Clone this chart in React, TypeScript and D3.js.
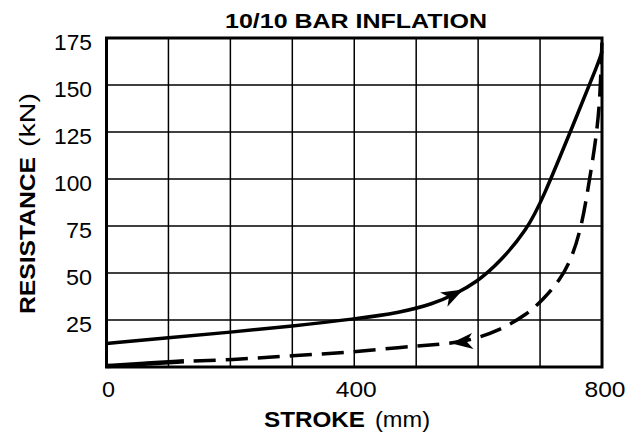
import * as d3 from "d3";

// loading curve (solid)
const strokeUp = [0, 100, 200, 300, 400, 475, 527, 563, 598, 635, 679, 705, 750, 797, 800];
const resistUp = [12.5, 15.5, 18.5, 21.8, 25.5, 29, 33.5, 38.8, 45.2, 55.8, 73, 90, 126, 164, 168];

// unloading curve (dashed)
const strokeDown = [0, 60, 125, 200, 300, 400, 474, 527, 582, 635, 679, 705, 732, 753, 768, 777, 785, 792, 797, 800];
const resistDown = [0.5, 1.8, 3, 3.8, 6, 8, 10.5, 11.7, 13.5, 19.5, 28, 36, 46, 59, 76.6, 94, 110, 126, 144, 174];

const xTicks = [0, 400, 800];
const xGrid = [0, 100, 200, 300, 400, 500, 600, 700, 800];
const yTicks = [25, 50, 75, 100, 125, 150, 175];
const arrowUpAt = 576;
const arrowDownAt = 556;

const FONT = "'Liberation Sans', Arial, Helvetica, sans-serif";

export default function App() {
  const width = 639,
    height = 436;
  const left = 106.5,
    right = 602,
    top = 38,
    bottom = 367;

  const x = d3.scaleLinear().domain([0, 800]).range([left, right]);
  const y = d3.scaleLinear().domain([0, 175]).range([bottom, top]);

  const line = d3
    .line<[number, number]>()
    .x((d) => x(d[0]))
    .y((d) => y(d[1]))
    .curve(d3.curveBasis);

  const up: [number, number][] = strokeUp.map((s, i) => [s, resistUp[i]]);
  const down: [number, number][] = strokeDown.map((s, i) => [s, resistDown[i]]);
  const downStart = down.filter((d) => d[0] <= 125);
  const downRest = down.filter((d) => d[0] >= 125);

  // piecewise lookup for arrow placement
  const upAt = d3.scaleLinear().domain(strokeUp).range(resistUp);
  const downAt = d3.scaleLinear().domain(strokeDown).range(resistDown);

  function arrow(tipMm: number, f: (v: number) => number, dir: number) {
    const tx = x(tipMm),
      ty = y(f(tipMm));
    const bx = x(tipMm - dir * 20),
      by = y(f(tipMm - dir * 20));
    const ang = (Math.atan2(ty - by, tx - bx) * 180) / Math.PI;
    return (
      <g transform={`translate(${tx},${ty}) rotate(${ang})`}>
        <path d="M0,0 L-22,-8 L-16,0 L-22,8 Z" fill="black" />
      </g>
    );
  }

  const dash = "0,10," + d3.range(40).map(() => "22,10").join(",");

  return (
    <svg
      width={width}
      height={height}
      style={{ position: "absolute", left: 0, top: 0, background: "white" }}
      fontFamily={FONT}
    >
      <rect x={0} y={0} width={width} height={height} fill="white" />
      {/* grid */}
      {xGrid.map((v) => (
        <line key={"gx" + v} x1={x(v)} x2={x(v)} y1={top} y2={bottom} stroke="black" strokeWidth={1.5} />
      ))}
      {yTicks.map((v) => (
        <line key={"gy" + v} x1={left} x2={right} y1={y(v)} y2={y(v)} stroke="black" strokeWidth={1.5} />
      ))}
      {/* curves */}
      <path d={line(up) || ""} fill="none" stroke="black" strokeWidth={3.5} />
      <path d={line(downRest) || ""} fill="none" stroke="black" strokeWidth={3.5} strokeDasharray={dash} />
      <path d={line(downStart) || ""} fill="none" stroke="black" strokeWidth={4.5} />
      {arrow(arrowUpAt, upAt, 1)}
      {arrow(arrowDownAt, downAt, -1)}
      {/* frame */}
      <rect x={left} y={top} width={right - left} height={bottom - top} fill="none" stroke="black" strokeWidth={3} />
      {/* y ticks */}
      {yTicks.map((v) => (
        <text
          key={"ty" + v}
          x={92}
          y={y(v) + 12}
          textAnchor="end"
          fontSize={22}
          textLength={v >= 100 ? 38 : 26}
          lengthAdjust="spacingAndGlyphs"
        >
          {v}
        </text>
      ))}
      {/* x ticks */}
      {xTicks.map((v) => (
        <text
          key={"tx" + v}
          x={x(v) + (v === 800 ? 3 : 2)}
          y={397}
          textAnchor="middle"
          fontSize={22}
          textLength={v >= 100 ? 41 : 13}
          lengthAdjust="spacingAndGlyphs"
        >
          {v}
        </text>
      ))}
      {/* title */}
      <text x={225} y={28} fontSize={21} fontWeight="bold" textLength={262} lengthAdjust="spacingAndGlyphs">
        10/10 BAR INFLATION
      </text>
      {/* x label */}
      <text x={264} y={427} fontSize={22} fontWeight="bold" textLength={101} lengthAdjust="spacingAndGlyphs">
        STROKE
      </text>
      <text x={375} y={427} fontSize={22} textLength={55} lengthAdjust="spacingAndGlyphs">
        (mm)
      </text>
      {/* y label */}
      <g transform="translate(35,314) rotate(-90)">
        <text x={0} y={0} fontSize={22} fontWeight="bold" textLength={157} lengthAdjust="spacingAndGlyphs">
          RESISTANCE
        </text>
        <text x={167} y={0} fontSize={22} textLength={54} lengthAdjust="spacingAndGlyphs">
          (kN)
        </text>
      </g>
    </svg>
  );
}
